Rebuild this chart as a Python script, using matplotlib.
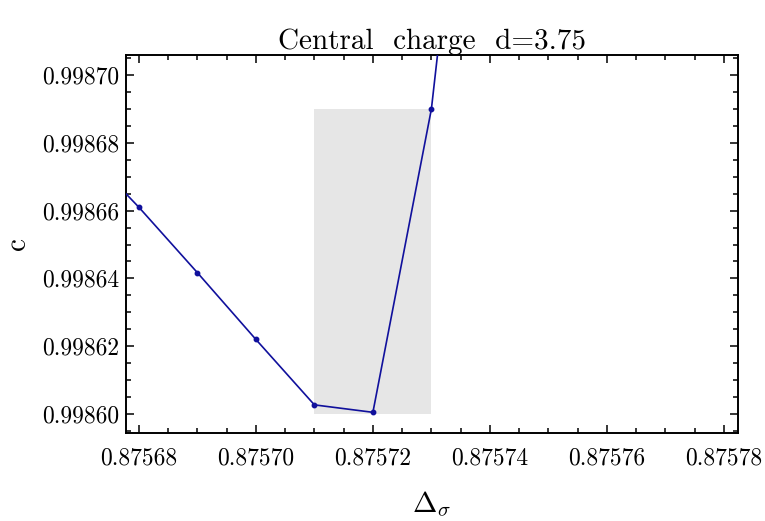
import numpy as np
import matplotlib
matplotlib.use("Agg")
import matplotlib.pyplot as plt
from matplotlib.ticker import MultipleLocator, FormatStrFormatter
from matplotlib.patches import Rectangle

plt.rcParams['font.family'] = 'cmr10'
plt.rcParams['mathtext.fontset'] = 'cm'
plt.rcParams['axes.formatter.use_mathtext'] = True

# data
delta_sigma = [0.87567, 0.87568, 0.87569, 0.87570, 0.87571, 0.87572, 0.87573, 0.87574]
central_c = [0.998679, 0.998661, 0.9986417, 0.998622, 0.9986027, 0.9986005, 0.99869, 0.998843]

# allowed region (shaded box)
box_x = [0.87571, 0.87573]
box_y = [0.99860, 0.99869]

line_color = '#10109c'

fig = plt.figure(figsize=(7.65, 5.21), dpi=100)
ax = fig.add_axes([0.1647, 0.1689, 0.8, 0.7255])

ax.add_patch(Rectangle((box_x[0], box_y[0]), box_x[1] - box_x[0], box_y[1] - box_y[0],
                       facecolor='#e6e6e6', edgecolor='none', zorder=1))
ax.plot(delta_sigma, central_c, color=line_color, lw=1.2, marker='o', ms=3.2, zorder=3)

ax.set_xlim(0.8756778, 0.8757824)
ax.set_ylim(0.9985944, 0.9987059)

ax.xaxis.set_major_locator(MultipleLocator(0.00002))
ax.xaxis.set_minor_locator(MultipleLocator(0.000005))
ax.yaxis.set_major_locator(MultipleLocator(0.00002))
ax.yaxis.set_minor_locator(MultipleLocator(0.000005))
ax.xaxis.set_major_formatter(FormatStrFormatter('%.5f'))
ax.yaxis.set_major_formatter(FormatStrFormatter('%.5f'))

ax.tick_params(which='both', direction='in', top=True, right=True, labelsize=17, width=1.1)
ax.tick_params(which='major', length=6)
ax.tick_params(which='minor', length=3.5)
ax.tick_params(axis='x', which='major', pad=10)
ax.tick_params(axis='y', which='major', pad=5)
for s in ax.spines.values():
    s.set_linewidth(1.4)

ax.set_title('Central  charge  d=3.75', fontsize=21, pad=4)
ax.set_xlabel(r'$\Delta_\sigma$', fontsize=21, labelpad=15)
ax.set_ylabel('c', fontsize=21, labelpad=8)

fig.savefig('out.png', dpi=100)
